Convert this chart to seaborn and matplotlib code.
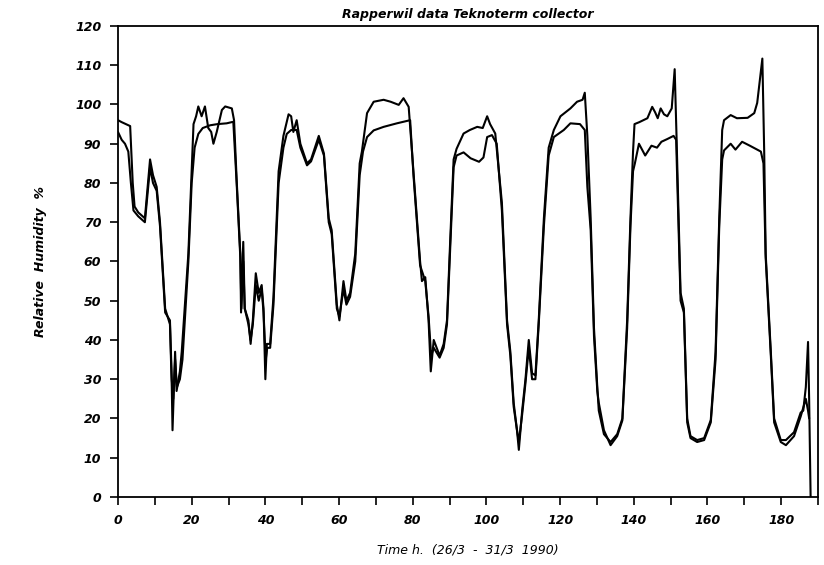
import matplotlib
matplotlib.use("Agg")
import matplotlib.pyplot as plt
import seaborn as sns
import pandas as pd

# ---- data ----
time_a = [0, 1, 3.3, 4.0, 4.5, 5.5, 7.3, 8.7, 9.5, 10.5, 11.4, 12.8, 14.1, 14.6, 14.8, 15.5, 15.9, 16.8, 17.3,
          19.1, 20, 20.5, 21.2, 21.8, 22.7, 23.6, 24.5, 25.3, 25.9, 26.8, 28.2, 29.1, 30.9, 31.5, 32.2, 33.2,
          33.4, 34, 34.4, 35.4, 36, 36.6, 37.4, 38.2, 39, 39.5, 40, 40.4, 41.3, 42.2, 43.6, 44.9, 46.3, 47,
          47.6, 48.5, 49.5, 51.3, 52.4, 54.5, 55.9, 57.2, 58, 59.4, 60.1, 61.2, 62, 63, 64.4, 65.6, 66.2,
          67.6, 69.4, 72.1, 74, 76.2, 77.5, 78.9, 80.2, 82, 82.5, 83.4, 84.3, 84.9, 85.7, 86.5, 87.3, 88.4,
          89.3, 90.2, 91.1, 91.9, 93.8, 95.5, 97.5, 99, 100.2, 101, 102.4, 104.2, 105.6, 106.5, 107.4, 108.3,
          108.8, 109.7, 110.6, 111.5, 112.4, 113.3, 114.2, 115.6, 116.9, 118.3, 120.1, 122.8, 124.6, 126.1,
          126.7, 127.4, 128.3, 129.2, 130.1, 130.5, 131.9, 133.7, 135.5, 136.9, 138.2, 139.1, 139.8, 140.2,
          141.5, 143.7, 145, 145.8, 146.5, 147.3, 148.2, 149.1, 150.3, 151.1, 151.6, 152.7, 153.6, 154.5,
          155.4, 157.2, 159.1, 160.9, 162.2, 163.2, 164, 164.5, 166.3, 168, 170.9, 172.7, 173.5, 174.9,
          175.4, 175.8, 177.2, 178.1, 179.9, 181.3, 183.5, 185.3, 186, 186.7, 187.3, 187.6, 188]
rh_a = [96, 95.5, 94.5, 80, 74, 72.5, 71, 86, 82, 79, 70, 48, 44, 28, 17, 37, 27, 32, 37,
        62, 83, 95, 97, 99.5, 97, 99.5, 94, 93, 90, 93, 98.6, 99.5, 99, 96, 81, 62,
        47, 65, 48, 45, 39, 45, 57, 52, 54, 48, 30, 39, 39, 51, 83, 92, 97.5, 97,
        93, 96, 90, 85, 86, 92, 87.5, 71, 68, 49, 45, 55, 50, 52, 62, 85, 88,
        97.8, 100.7, 101.2, 100.7, 99.9, 101.6, 99.4, 83, 60, 55, 56, 45, 32, 40, 38, 36, 39,
        45, 66, 86, 88.7, 92.6, 93.5, 94.3, 94, 97, 95, 92.6, 75, 45, 37, 24, 17,
        12, 22, 30, 40, 31.5, 31, 45, 71, 89, 93.5, 97, 99, 100.7, 101.2,
        103, 92, 71, 43, 28, 22, 16, 14, 16, 20, 45, 71, 88, 95,
        95.5, 96.5, 99.4, 98, 96.5, 99, 97.5, 97, 99, 109, 92, 52, 48, 20,
        15.5, 14.5, 15, 19.6, 37, 71, 93.5, 96, 97.3, 96.5, 96.6, 97.8, 100.4, 111.7,
        88, 62, 37, 20, 14.5, 14.5, 16.5, 21.5, 22, 28, 39.5, 25, 0]

time_b = [0, 1, 1.9, 2.8, 3.5, 4.2, 5.5, 7.3, 8.7, 9.5, 10.5, 11.4, 12.8, 14.1, 14.6, 15, 15.5, 16, 16.8, 17.5,
          19.1, 20, 20.8, 21.8, 23, 25, 27, 29.5, 31.3, 32.2, 33.2, 33.5, 34, 34.4, 35.4, 36, 36.6, 37.4,
          38.2, 39, 39.5, 40.1, 40.5, 41.3, 42.2, 43.6, 44.9, 45.8, 47, 48.5, 49.5, 51.3, 52.4, 54.5, 55.9,
          57.2, 58, 59.4, 60.1, 61.2, 62, 63, 64.4, 65.6, 66.5, 67.6, 69.4, 72.1, 75.7, 79.3, 80.2, 82,
          83.4, 84.3, 85, 85.7, 87.3, 88.4, 89.3, 90.2, 91.1, 91.9, 93.8, 95.7, 98, 99.2, 100.2, 101.5,
          102.8, 104.2, 105.6, 106.5, 107.4, 108.3, 108.8, 109.7, 110.6, 111.5, 112.4, 113.3, 114.2, 115.6,
          116.9, 118.3, 121, 122.8, 125.4, 126.7, 127.4, 128.3, 129.2, 130.1, 130.5, 131.9, 133.7, 135.5,
          136.9, 138.2, 139.1, 139.8, 140.3, 141.4, 143.1, 144.8, 146.3, 147.5, 149.1, 150.8, 151.5, 152.7,
          153.6, 154.5, 155.4, 157.2, 159.1, 160.9, 162.2, 163.2, 164, 164.5, 166.3, 167.6, 169.4, 171.5,
          174.5, 175.2, 175.8, 177.2, 178.1, 179.9, 181.3, 183.5, 185.3, 186.7, 187.3, 187.6]
rh_b = [93, 91, 90, 88, 80, 73, 71.5, 70, 84, 80, 78, 69, 47, 45, 30, 25, 35, 28, 30, 35,
        60, 80, 89, 92.5, 94, 94.7, 95, 95.2, 95.6, 80, 61, 48, 60, 48, 44, 40, 44, 54,
        50, 53, 47, 35, 38, 38, 49, 80, 89, 92.5, 93.5, 93.5, 89, 84.5, 85.5, 91, 87,
        70, 67, 48, 46, 53, 49, 51, 60, 82, 88, 91.7, 93.4, 94.3, 95.2, 96, 82, 59,
        55, 46, 36, 38, 35.5, 38, 44, 64, 84, 87, 87.8, 86.3, 85.4, 86.5, 91.7, 92.2,
        90, 73, 44, 36, 23, 17, 14, 21, 29, 38, 30, 30, 44, 69,
        87, 91.7, 93.5, 95.2, 95, 93.5, 79, 68, 41, 27, 24, 17, 13.2, 15.5,
        19.5, 43, 69, 83, 85, 90, 87, 89.5, 89, 90.5, 91.2, 92, 91, 50,
        47, 19, 15, 14, 14.5, 19, 35, 69, 86, 88.3, 90, 88.5, 90.5, 89.5,
        88, 85, 61, 36, 19, 14, 13.2, 15.5, 20.5, 25, 22, 20]

x_major = list(range(0, 181, 20))
x_minor = list(range(10, 191, 20))
y_major = list(range(0, 121, 10))

title = "Rapperwil data Teknoterm collector"
xlabel = "Time h.  (26/3  -  31/3  1990)"
ylabel = "Relative  Humidity  %"

# ---- plot ----
sns.set_style("ticks")
plt.rcParams["font.family"] = ["DejaVu Sans"]
plt.rcParams["text.color"] = "black"
plt.rcParams["axes.labelcolor"] = "black"

fig = plt.figure(figsize=(8.24, 5.65), dpi=100)
ax = fig.add_axes([0.1432, 0.1204, 0.8495, 0.8336])

sns.lineplot(x=time_a, y=rh_a, ax=ax, color="black", linewidth=1.5, sort=False, estimator=None)
sns.lineplot(x=time_b, y=rh_b, ax=ax, color="black", linewidth=1.5, sort=False, estimator=None)

ax.set_xlim(0, 190)
ax.set_ylim(0, 120)
ax.set_xticks(x_major)
ax.set_xticks(x_minor, minor=True)
ax.set_yticks(y_major)
fontkw = dict(style="italic", weight="bold", size=9, color="black")
ax.set_xticklabels([str(v) for v in x_major], **fontkw)
ax.set_yticklabels([str(v) for v in y_major], **fontkw)
ax.tick_params(axis="both", which="both", direction="out", length=6, width=1.2, colors="black", pad=6)
for s in ax.spines.values():
    s.set_linewidth(1.3)
    s.set_color("black")

ax.set_title(title, style="italic", weight="bold", size=9, pad=6, color="black")
ax.set_xlabel(xlabel, style="italic", size=9, labelpad=12, color="black")
ax.set_ylabel(ylabel, style="italic", weight="bold", size=9, labelpad=20, color="black")

fig.savefig("out.png", dpi=100)
